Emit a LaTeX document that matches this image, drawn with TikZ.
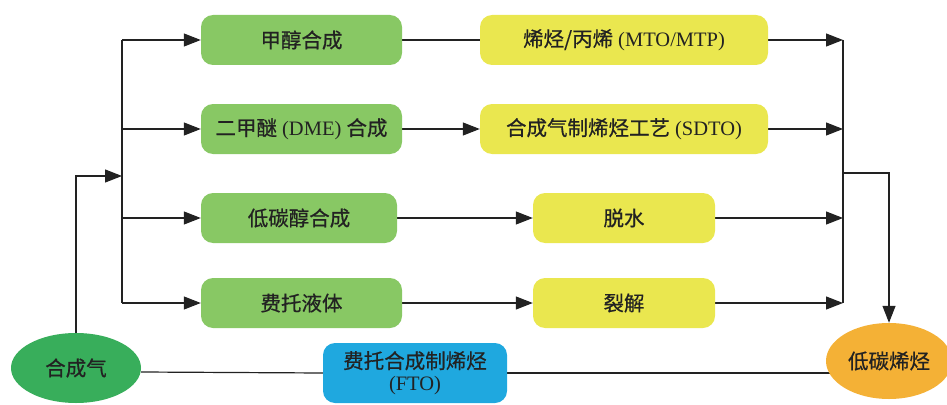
\documentclass[tikz,border=0pt]{standalone}
\usepackage{fontspec}
\setmainfont{Liberation Serif}
\newfontfamily\cjk[FakeBold=0.6]{Noto Sans CJK SC}
\usetikzlibrary{arrows.meta,shapes.geometric,backgrounds}
\definecolor{boxgreen}{HTML}{88C864}
\definecolor{boxyellow}{HTML}{EAE74F}
\definecolor{boxblue}{HTML}{1FA8DF}
\definecolor{ellorange}{HTML}{F4B136}
\definecolor{ellgreen}{HTML}{38AE5B}
\definecolor{ink}{HTML}{222222}
\begin{document}
\begin{tikzpicture}[x=1pt,y=-1pt,
  proc/.style={rounded corners=12pt, minimum height=50pt, inner sep=0pt, font=\fontsize{20.5}{24}\selectfont, text=ink},
  ell/.style={ellipse, inner sep=0pt, font=\fontsize{20.5}{24}\selectfont, text=ink},
  conn/.style={line width=1.2pt, draw=ink},
  arr/.style={conn, -{Triangle[length=17pt,width=13pt]}}]
\clip (0,0) rectangle (947,404);
% green boxes
\node[proc, fill=boxgreen, minimum width=201pt] (g1) at (301.5,40) {{\cjk 甲醇合成}};
\node[proc, fill=boxgreen, minimum width=201pt] (g2) at (301.5,129) {{\cjk 二甲醚} (DME) {\cjk 合成}};
\node[proc, fill=boxgreen, minimum width=196pt] (g3) at (299,218) {{\cjk 低碳醇合成}};
\node[proc, fill=boxgreen, minimum width=201pt] (g4) at (301.5,303) {{\cjk 费托液体}};
% yellow boxes
\node[proc, fill=boxyellow, minimum width=288pt] (y1) at (624,40) {{\cjk 烯烃/丙烯} (MTO/MTP)};
\node[proc, fill=boxyellow, minimum width=288pt] (y2) at (624,129) {{\cjk 合成气制烯烃工艺} (SDTO)};
\node[proc, fill=boxyellow, minimum width=182pt] (y3) at (624,218) {{\cjk 脱水}};
\node[proc, fill=boxyellow, minimum width=182pt] (y4) at (624,303) {{\cjk 裂解}};
% bottom
\node[proc, fill=boxblue, minimum width=184pt, minimum height=60pt, align=center] (fto) at (415,373) {{\cjk 费托合成制烯烃}\\[-2pt](FTO)};
\node[ell, fill=ellgreen, minimum width=130pt, minimum height=70pt] (syn) at (76,368) {{\cjk 合成气}};
\node[ell, fill=ellorange, minimum width=126pt, minimum height=76pt] (ole) at (889,361) {{\cjk 低碳烯烃}};
% junction coordinates
\coordinate (L1) at (122,40);
\coordinate (L4) at (122,303);
\coordinate (Lin) at (122,176);
\coordinate (R1) at (843,40);
\coordinate (R2) at (843,129);
\coordinate (R3) at (843,218);
\coordinate (R4) at (843,303);
\coordinate (Rm) at (843,173);
\begin{scope}[on background layer]
\draw[arr] (syn.north) |- (Lin);
\draw[conn] (L1) -- (L4);
\draw[arr] (L1) -- (g1.west);
\draw[arr] (L1 |- g2.west) -- (g2.west);
\draw[arr] (L1 |- g3.west) -- (g3.west);
\draw[arr] (L4) -- (g4.west);
\draw[conn] (g1.east) -- (y1.west);
\draw[arr] (g2.east) -- (y2.west);
\draw[arr] (g3.east) -- (y3.west);
\draw[arr] (g4.east) -- (y4.west);
\draw[arr] (y1.east) -- (R1);
\draw[arr] (y2.east) -- (R2);
\draw[arr] (y3.east) -- (R3);
\draw[arr] (y4.east) -- (R4);
\draw[conn] (R1) -- (R4);
\draw[arr] (Rm) -| (ole.north);
\draw[conn] ([yshift=-4pt]syn.east) -- (fto.west);
\draw[conn] (fto.east) -- (fto.east -| ole.center);
\end{scope}
\end{tikzpicture}
\end{document}
